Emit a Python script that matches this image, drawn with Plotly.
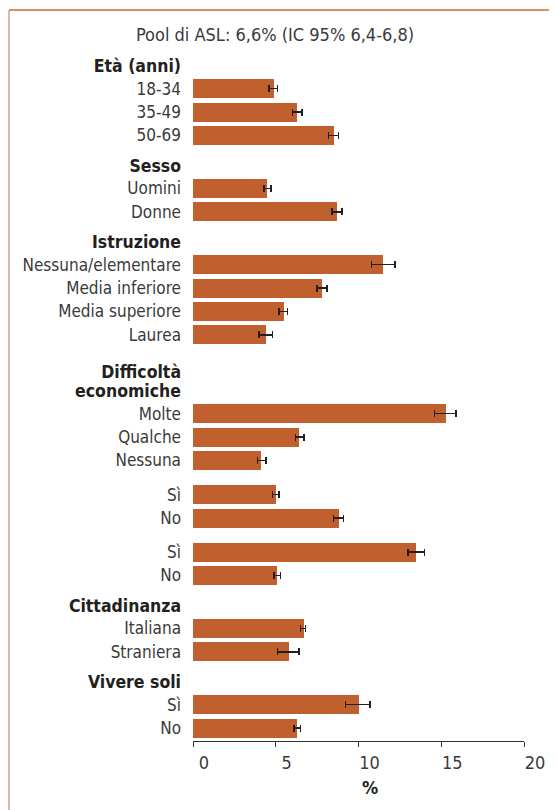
import plotly.graph_objects as go

# Data (prevalence %, with 95% CI)
group_headers = [["Età (anni)"], ["Sesso"], ["Istruzione"], ["Difficoltà", "economiche"],
                 [], [], ["Cittadinanza"], ["Vivere soli"]]
group_sizes = [3, 2, 4, 3, 2, 2, 2, 2]
categories = ["18-34", "35-49", "50-69", "Uomini", "Donne", "Nessuna/elementare",
              "Media inferiore", "Media superiore", "Laurea", "Molte", "Qualche", "Nessuna",
              "Sì", "No", "Sì", "No", "Italiana", "Straniera", "Sì", "No"]
values = [4.9, 6.3, 8.5, 4.5, 8.7, 11.5, 7.8, 5.5, 4.4, 15.3, 6.4, 4.1,
          5.0, 8.8, 13.5, 5.1, 6.7, 5.8, 10.0, 6.3]
ci_low = [4.6, 6.0, 8.2, 4.3, 8.4, 10.8, 7.5, 5.2, 4.0, 14.6, 6.2, 3.9,
          4.8, 8.5, 13.0, 4.9, 6.5, 5.1, 9.2, 6.1]
ci_high = [5.1, 6.6, 8.8, 4.7, 9.0, 12.2, 8.1, 5.7, 4.8, 15.9, 6.7, 4.4,
           5.2, 9.1, 14.0, 5.3, 6.8, 6.4, 10.7, 6.5]
title_text = "Pool di ASL: 6,6% (IC 95% 6,4-6,8)"
x_ticks = [0, 5, 10, 15, 20]

FONT = "DejaVu Sans Condensed, Liberation Sans Narrow, sans-serif"
BAR = "#C0602E"
TXT = "#3a3a3a"
DARK = "#231f20"

# row layout: items one unit apart, extra space before each group
pos, tickvals, ticktext = [], [], []
cursor = 0.0
k = 0
for gi, (hdr, n) in enumerate(zip(group_headers, group_sizes)):
    if gi > 0:
        cursor += 1.45 if not hdr else 1.15 + 1.1 * len(hdr)
    for j, h in enumerate(hdr):
        tickvals.append(cursor - 0.95 - 0.8 * (len(hdr) - 1 - j))
        ticktext.append("<b><span style='color:%s;font-size:17.5px'>%s</span></b>" % (DARK, h))
    for i in range(n):
        pos.append(cursor)
        tickvals.append(cursor)
        ticktext.append(categories[k])
        cursor += 1
        k += 1
    cursor -= 1

err_plus = [h - v for h, v in zip(ci_high, values)]
err_minus = [v - l for v, l in zip(values, ci_low)]

fig = go.Figure(go.Bar(
    x=values, y=pos, orientation="h", width=0.81,
    marker=dict(color=BAR, line=dict(width=0)),
    error_x=dict(type="data", symmetric=False, array=err_plus, arrayminus=err_minus,
                 color=DARK, thickness=1.5, width=3.5),
))

# page body adds an 8px offset, so the figure is drawn 8px smaller
OFF = 8
W, H = 557 - OFF, 810 - OFF
L, R, T, B = 193 - OFF, 33, 51 - OFF, 69
pw, ph = W - L - R, H - T - B

fig.update_layout(
    width=W, height=H,
    margin=dict(l=L, r=R, t=T, b=B, pad=0),
    paper_bgcolor="white", plot_bgcolor="white",
    font=dict(family=FONT, size=17, color=TXT),
    showlegend=False,
    bargap=0,
    xaxis=dict(range=[0, 20], tickvals=x_ticks, ticks="outside", ticklen=5,
               tickcolor="#333", showline=True, linecolor="#333", linewidth=1,
               showgrid=False, zeroline=False, ticklabelshift=11, automargin=False,
               tickfont=dict(size=18, color=TXT)),
    yaxis=dict(range=[cursor + 0.55, -1.6], tickvals=tickvals, ticktext=ticktext,
               ticks="", showline=False, showgrid=False, zeroline=False, automargin=False,
               ticklabelstandoff=11, tickfont=dict(size=17, color=TXT)),
    annotations=[
        dict(text=title_text, xref="paper", yref="paper",
             x=(274.5 - OFF - L) / pw, y=1 + (T - (35 - OFF)) / ph,
             xanchor="center", yanchor="middle",
             showarrow=False, font=dict(size=18, color=TXT)),
        dict(text="<b>%</b>", xref="x", yref="paper", x=10, xshift=11,
             y=-((788 - OFF) - (H - B)) / ph, xanchor="center", yanchor="middle",
             showarrow=False, font=dict(size=18, color=DARK)),
    ],
    shapes=[
        dict(type="line", xref="paper", yref="paper",
             x0=(9 - OFF - L) / pw, x1=1 + (R + 10) / pw,
             y0=1 + (T - (10 - OFF)) / ph, y1=1 + (T - (10 - OFF)) / ph,
             line=dict(color="#D9915F", width=2)),
        dict(type="line", xref="paper", yref="paper",
             x0=(9 - OFF - L) / pw, x1=(9 - OFF - L) / pw,
             y0=1 + (T - (10 - OFF)) / ph, y1=-(B + 10) / ph,
             line=dict(color="#D9A080", width=1.5)),
    ],
)

fig.write_html("out.html")
